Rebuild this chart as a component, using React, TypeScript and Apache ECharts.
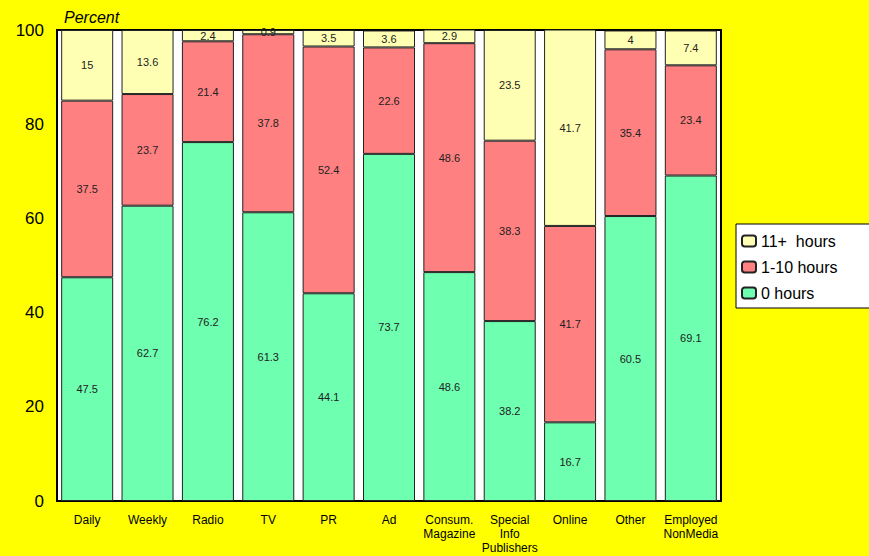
import React, { useEffect, useRef } from "react";
import * as echarts from "echarts";

const categories = [
  "Daily",
  "Weekly",
  "Radio",
  "TV",
  "PR",
  "Ad",
  "Consum.\nMagazine",
  "Special\nInfo\nPublishers",
  "Online",
  "Other",
  "Employed\nNonMedia",
];

const zeroHours = [47.5, 62.7, 76.2, 61.3, 44.1, 73.7, 48.6, 38.2, 16.7, 60.5, 69.1];
const oneToTenHours = [37.5, 23.7, 21.4, 37.8, 52.4, 22.6, 48.6, 38.3, 41.7, 35.4, 23.4];
const elevenPlusHours = [15, 13.6, 2.4, 0.9, 3.5, 3.6, 2.9, 23.5, 41.7, 4, 7.4];

const seriesNames = ["11+  hours", "1-10 hours", "0 hours"];
const yTicks = { min: 0, max: 100, interval: 20 };

const FONT = "'Liberation Sans', Arial, sans-serif";

export default function App() {
  const ref = useRef<HTMLDivElement>(null);

  useEffect(() => {
    if (!ref.current) return;
    const chart = echarts.init(ref.current, undefined, { renderer: "svg" });

    const segLabel = {
      show: true,
      position: "inside",
      color: "#222",
      fontSize: 11,
      fontFamily: FONT,
    };
    const mkSeries = (name: string, data: number[], color: string) => ({
      name,
      type: "bar",
      stack: "total",
      data,
      barWidth: 52,
      itemStyle: { color, borderColor: "#222", borderWidth: 1 },
      label: segLabel,
    });

    chart.setOption({
      animation: false,
      backgroundColor: "#ffff00",
      textStyle: { fontFamily: FONT },
      grid: {
        left: 57,
        top: 30,
        right: 148,
        bottom: 55,
        show: true,
        backgroundColor: "#ffffff",
        borderColor: "#000",
        borderWidth: 2,
      },
      graphic: [
        {
          type: "rect",
          shape: { x: 736, y: 224, width: 140, height: 84 },
          style: { fill: "#ffffff", stroke: "#000", lineWidth: 1 },
          z: 0,
        },
        {
          type: "text",
          x: 64,
          y: 9,
          style: {
            text: "Percent",
            fontSize: 16,
            fontStyle: "italic",
            fontFamily: FONT,
            fill: "#000",
          },
        },
      ],
      legend: {
        orient: "vertical",
        left: 736,
        top: 228,
        data: seriesNames,
        itemWidth: 14,
        itemHeight: 11,
        itemGap: 10,
        textStyle: { fontSize: 16, color: "#000", fontFamily: FONT },
        z: 5,
      },
      xAxis: {
        type: "category",
        data: categories,
        axisLine: { show: false },
        axisTick: { show: false },
        axisLabel: {
          color: "#000",
          fontSize: 12,
          fontFamily: FONT,
          margin: 12,
          lineHeight: 14,
          interval: 0,
        },
      },
      yAxis: {
        type: "value",
        min: yTicks.min,
        max: yTicks.max,
        interval: yTicks.interval,
        axisLine: { show: false },
        axisTick: { show: false },
        splitLine: { show: false },
        axisLabel: { color: "#000", fontSize: 17, fontFamily: FONT, margin: 13 },
      },
      series: [
        mkSeries(seriesNames[2], zeroHours, "#6effb0"),
        mkSeries(seriesNames[1], oneToTenHours, "#ff8080"),
        mkSeries(seriesNames[0], elevenPlusHours, "#ffffb3"),
      ],
    });

    return () => chart.dispose();
  }, []);

  return (
    <div
      ref={ref}
      style={{ position: "fixed", left: 0, top: 0, width: 869, height: 556 }}
    />
  );
}
